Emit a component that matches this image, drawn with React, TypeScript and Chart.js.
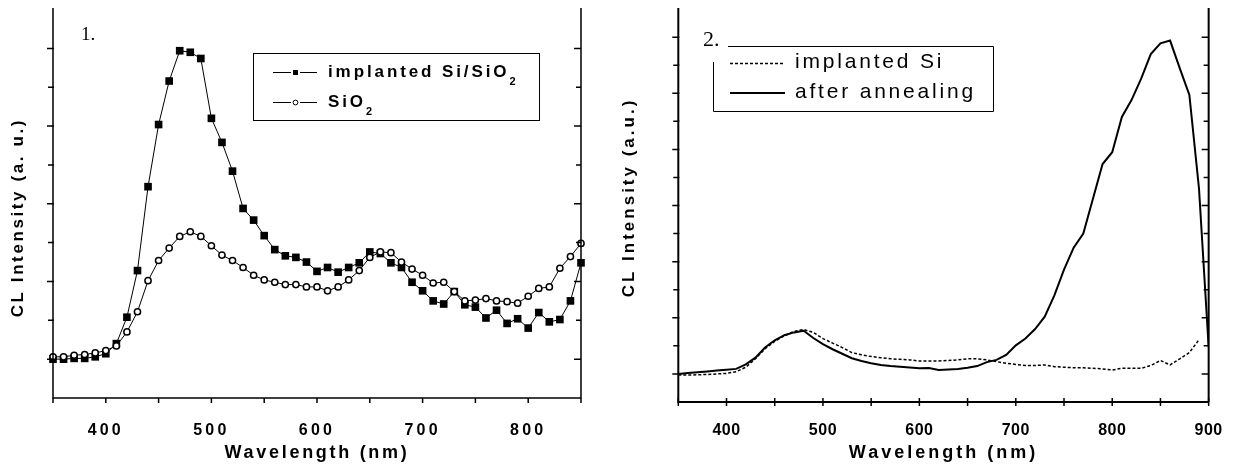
import React, { useEffect, useRef } from 'react';
import { Chart, registerables } from 'chart.js';

Chart.register(...registerables);

// ---------- data (panel 1) ----------
const leftWavelengths = [
  350, 360, 370, 380, 390, 400, 410, 420, 430, 440, 450, 460, 470, 480, 490, 500, 510,
  520, 530, 540, 550, 560, 570, 580, 590, 600, 610, 620, 630, 640, 650, 660, 670, 680,
  690, 700, 710, 720, 730, 740, 750, 760, 770, 780, 790, 800, 810, 820, 830, 840, 850,
];
const implantedSiSiO2 = [
  0.0, 0.0, 0.01, 0.01, 0.03, 0.07, 0.2, 0.54, 1.14, 2.22, 3.02, 3.58, 3.97, 3.95, 3.87, 3.1, 2.79,
  2.42, 1.94, 1.79, 1.59, 1.41, 1.33, 1.31, 1.25, 1.13, 1.18, 1.12, 1.18, 1.24, 1.38, 1.36, 1.24, 1.18,
  0.99, 0.88, 0.75, 0.71, 0.87, 0.7, 0.67, 0.53, 0.63, 0.46, 0.52, 0.4, 0.6, 0.48, 0.51, 0.75, 1.24,
];
const sio2 = [
  0.03, 0.03, 0.05, 0.06, 0.08, 0.11, 0.17, 0.35, 0.61, 1.01, 1.27, 1.43, 1.58, 1.64, 1.58, 1.46, 1.34,
  1.27, 1.18, 1.08, 1.02, 0.99, 0.96, 0.96, 0.93, 0.93, 0.88, 0.93, 1.02, 1.14, 1.31, 1.38, 1.37, 1.25,
  1.16, 1.08, 0.98, 0.99, 0.87, 0.75, 0.76, 0.78, 0.75, 0.74, 0.72, 0.81, 0.91, 0.93, 1.17, 1.32, 1.49,
];

// ---------- data (panel 2) ----------
const rightWavelengths = [
  350, 360, 370, 380, 390, 400, 410, 420, 430, 440, 450, 460, 470, 480, 490, 500, 510, 520, 530,
  540, 550, 560, 570, 580, 590, 600, 610, 620, 630, 640, 650, 660, 670, 680, 690, 700, 710, 720,
  730, 740, 750, 760, 770, 780, 790, 800, 810, 820, 830, 840, 850, 860, 870, 880, 890, 900,
];
const afterAnnealing = [
  0.0, 0.015, 0.03, 0.045, 0.06, 0.075, 0.09, 0.17, 0.29, 0.47, 0.6, 0.69, 0.74, 0.77, 0.64, 0.53, 0.44, 0.36, 0.28,
  0.23, 0.19, 0.16, 0.14, 0.13, 0.115, 0.1, 0.105, 0.07, 0.08, 0.09, 0.11, 0.14, 0.21, 0.25, 0.34, 0.51, 0.63, 0.8,
  1.02, 1.4, 1.86, 2.25, 2.5, 3.12, 3.74, 3.95, 4.58, 4.88, 5.26, 5.7, 5.89, 5.94, 5.45, 4.97, 3.3, 0.48,
];
const implantedSi = [
  -0.02, -0.02, -0.015, -0.01, 0.0, 0.01, 0.04, 0.12, 0.27, 0.45, 0.58, 0.68, 0.76, 0.79, 0.74, 0.63, 0.55, 0.47, 0.38,
  0.34, 0.31, 0.29, 0.27, 0.26, 0.25, 0.23, 0.23, 0.23, 0.24, 0.25, 0.27, 0.27, 0.25, 0.22, 0.19, 0.17, 0.15, 0.15,
  0.16, 0.13, 0.12, 0.11, 0.11, 0.1, 0.09, 0.07, 0.1, 0.1, 0.1, 0.15, 0.24, 0.16, 0.27, 0.38, 0.61,
];

const SANS = '"Liberation Sans", Arial, sans-serif';
const SERIF = '"Liberation Serif", "Times New Roman", serif';

function pts(xs: number[], ys: number[]) {
  return ys.map((y, i) => ({ x: xs[i], y }));
}

type Decor = {
  axisWidth: number;
  xTickUp: number;
  xTickDown: number;
  yMax: number;
  yTitle: string;
  yTitleX: number;
  yTitleY: number;
  yTitleSpacing: number;
  drawLegend: (ctx: CanvasRenderingContext2D, chart: any) => void;
};

function makeDecorPlugin(d: Decor) {
  return {
    id: 'decor',
    afterDraw(chart: any) {
      const ctx: CanvasRenderingContext2D = chart.ctx;
      const { left, right, top, bottom } = chart.chartArea;
      const xs = chart.scales.x;
      const ys = chart.scales.y;
      ctx.save();
      ctx.letterSpacing = '0px';
      ctx.strokeStyle = '#000';
      ctx.lineWidth = d.axisWidth;
      ctx.setLineDash([]);
      ctx.beginPath();
      ctx.moveTo(left, top);
      ctx.lineTo(left, bottom);
      ctx.lineTo(right, bottom);
      ctx.moveTo(right, top);
      ctx.lineTo(right, bottom);
      ctx.stroke();
      ctx.lineWidth = 1.5;
      ctx.beginPath();
      xs.ticks.forEach((t: any) => {
        const px = xs.getPixelForValue(t.value);
        ctx.moveTo(px, bottom - d.xTickUp);
        ctx.lineTo(px, bottom + d.xTickDown);
      });
      ys.ticks.forEach((t: any) => {
        const v = t.value;
        if (v < 0 || v > d.yMax || Math.abs(v * 2 - Math.round(v * 2)) > 1e-6) return;
        const major = Math.abs(v - Math.round(v)) < 1e-6;
        const py = ys.getPixelForValue(v);
        ctx.moveTo(left - (major ? 6 : 5), py);
        ctx.lineTo(left + 1, py);
        ctx.moveTo(right - (major ? 7 : 5), py);
        ctx.lineTo(right, py);
      });
      ctx.stroke();
      // y axis title
      ctx.save();
      ctx.translate(d.yTitleX, d.yTitleY);
      ctx.rotate(-Math.PI / 2);
      ctx.font = `bold 17px ${SANS}`;
      ctx.letterSpacing = `${d.yTitleSpacing}px`;
      ctx.fillStyle = '#000';
      ctx.textAlign = 'center';
      ctx.textBaseline = 'middle';
      ctx.fillText(d.yTitle, d.yTitleSpacing / 2, 0);
      ctx.restore();
      d.drawLegend(ctx, chart);
      ctx.restore();
    },
  };
}

function spacingPlugin(titleSpacing: number, tickSpacing: number) {
  return {
    id: 'spacing',
    beforeDraw(chart: any) {
      chart.ctx.letterSpacing = `${titleSpacing}px`;
    },
    afterDatasetsDraw(chart: any) {
      chart.ctx.letterSpacing = `${tickSpacing}px`;
    },
  };
}

function xScale(min: number, max: number, height: number, pad: number) {
  return {
    type: 'linear',
    min,
    max,
    afterFit: (s: any) => {
      s.height = height;
    },
    grid: { display: false },
    border: { display: false },
    ticks: {
      stepSize: 50,
      autoSkip: false,
      maxRotation: 0,
      padding: pad,
      z: 1,
      color: '#000',
      font: { family: SANS, weight: 'bold', size: 16 },
      callback: (v: any) => (Number(v) % 100 === 0 ? String(v) : ''),
    },
    title: {
      display: true,
      text: 'Wavelength (nm)',
      color: '#000',
      font: { family: SANS, weight: 'bold', size: 18 },
      padding: { top: 0, bottom: 5 },
    },
  };
}

function yScale(min: number, max: number, width: number) {
  return {
    type: 'linear',
    min,
    max,
    afterFit: (s: any) => {
      s.width = width;
    },
    grid: { display: false },
    border: { display: false },
    ticks: { display: false, stepSize: 0.5 },
  };
}

function drawLeftLegend(ctx: CanvasRenderingContext2D, chart: any) {
  ctx.strokeStyle = '#000';
  ctx.fillStyle = '#000';
  ctx.lineWidth = 1;
  ctx.setLineDash([]);
  ctx.strokeRect(253.5, 53.5, 286, 67);
  const rows = [
    { y: 72, label: chart.data.datasets[0].label, marker: 'rect' },
    { y: 102, label: chart.data.datasets[1].label, marker: 'circle' },
  ];
  rows.forEach((r) => {
    ctx.beginPath();
    ctx.moveTo(273, r.y + 0.5);
    ctx.lineTo(291, r.y + 0.5);
    ctx.moveTo(300, r.y + 0.5);
    ctx.lineTo(317, r.y + 0.5);
    ctx.stroke();
    if (r.marker === 'rect') {
      ctx.fillRect(293, r.y - 2, 5, 5);
    } else {
      ctx.beginPath();
      ctx.arc(295.5, r.y + 0.5, 2.4, 0, Math.PI * 2);
      ctx.fillStyle = '#fff';
      ctx.fill();
      ctx.stroke();
      ctx.fillStyle = '#000';
    }
    const main = r.label.replace(/2$/, '');
    ctx.font = `bold 17px ${SANS}`;
    ctx.letterSpacing = '2.9px';
    ctx.textAlign = 'left';
    ctx.textBaseline = 'middle';
    ctx.fillText(main, 328, r.y);
    const w = ctx.measureText(main).width;
    ctx.font = `bold 11px ${SANS}`;
    ctx.letterSpacing = '0px';
    ctx.fillText('2', 328 + w, r.y + 10);
  });
  ctx.font = `19px ${SERIF}`;
  ctx.letterSpacing = '0px';
  ctx.textAlign = 'left';
  ctx.textBaseline = 'alphabetic';
  ctx.fillText('1.', 81, 40);
}

function drawRightLegend(ctx: CanvasRenderingContext2D, chart: any) {
  ctx.strokeStyle = '#000';
  ctx.fillStyle = '#000';
  ctx.lineWidth = 1;
  ctx.setLineDash([]);
  ctx.beginPath();
  ctx.moveTo(108, 46.5);
  ctx.lineTo(373.5, 46.5);
  ctx.lineTo(373.5, 111.5);
  ctx.lineTo(93.5, 111.5);
  ctx.lineTo(93.5, 62);
  ctx.stroke();
  const dsImpl = chart.data.datasets[0];
  const dsAnn = chart.data.datasets[1];
  ctx.lineWidth = 1.5;
  ctx.setLineDash([3, 2]);
  ctx.beginPath();
  ctx.moveTo(110, 63.5);
  ctx.lineTo(165, 63.5);
  ctx.stroke();
  ctx.setLineDash([]);
  ctx.lineWidth = 2;
  ctx.beginPath();
  ctx.moveTo(110, 93);
  ctx.lineTo(165, 93);
  ctx.stroke();
  ctx.font = `21px ${SANS}`;
  ctx.letterSpacing = '2.8px';
  ctx.textAlign = 'left';
  ctx.textBaseline = 'middle';
  ctx.fillText(dsImpl.label, 175, 62);
  ctx.fillText(dsAnn.label, 175, 92);
  ctx.font = `22px ${SERIF}`;
  ctx.letterSpacing = '0px';
  ctx.textBaseline = 'alphabetic';
  ctx.fillText('2.', 83, 46);
}

export default function App() {
  const leftRef = useRef<HTMLCanvasElement>(null);
  const rightRef = useRef<HTMLCanvasElement>(null);

  useEffect(() => {
    const left = new Chart(leftRef.current as HTMLCanvasElement, {
      type: 'line',
      data: {
        datasets: [
          {
            label: 'implanted Si/SiO2',
            data: pts(leftWavelengths, implantedSiSiO2),
            borderColor: '#000',
            borderWidth: 1,
            pointStyle: 'rect',
            pointRadius: 5.4,
            pointBackgroundColor: '#000',
            pointBorderColor: '#000',
            pointBorderWidth: 0,
            tension: 0,
            clip: false,
            order: 1,
          },
          {
            label: 'SiO2',
            data: pts(leftWavelengths, sio2),
            borderColor: '#000',
            borderWidth: 1,
            pointStyle: 'circle',
            pointRadius: 3.1,
            pointBackgroundColor: '#fff',
            pointBorderColor: '#000',
            pointBorderWidth: 1.5,
            tension: 0,
            clip: false,
            order: 0,
          },
        ],
      },
      options: {
        animation: false,
        responsive: false,
        devicePixelRatio: 1,
        layout: { padding: { left: 0, top: 8, right: 39, bottom: 0 } },
        plugins: { legend: { display: false }, tooltip: { enabled: false } },
        scales: {
          x: xScale(350, 850, 71, 15),
          y: yScale(-0.5, 4.52, 53),
        },
      } as any,
      plugins: [
        spacingPlugin(2.7, 3.2),
        makeDecorPlugin({
          axisWidth: 1.5,
          xTickUp: 0,
          xTickDown: 5,
          yMax: 4.5,
          yTitle: 'CL Intensity (a. u.)',
          yTitleX: 18.5,
          yTitleY: 219,
          yTitleSpacing: 2.6,
          drawLegend: drawLeftLegend,
        }),
      ] as any,
    });

    const right = new Chart(rightRef.current as HTMLCanvasElement, {
      type: 'line',
      data: {
        datasets: [
          {
            label: 'implanted Si',
            data: pts(rightWavelengths, implantedSi),
            borderColor: '#000',
            borderWidth: 1.5,
            borderDash: [3, 2],
            pointRadius: 0,
            tension: 0,
            order: 1,
          },
          {
            label: 'after annealing',
            data: pts(rightWavelengths, afterAnnealing),
            borderColor: '#000',
            borderWidth: 2,
            pointRadius: 0,
            tension: 0,
            order: 0,
          },
        ],
      },
      options: {
        animation: false,
        responsive: false,
        devicePixelRatio: 1,
        layout: { padding: { left: 0, top: 8, right: 18, bottom: 0 } },
        plugins: { legend: { display: false }, tooltip: { enabled: false } },
        scales: {
          x: xScale(350, 900, 67, 11),
          y: yScale(-0.5, 6.52, 58.3),
        },
      } as any,
      plugins: [
        spacingPlugin(3.0, 0.5),
        makeDecorPlugin({
          axisWidth: 2,
          xTickUp: 4,
          xTickDown: 4,
          yMax: 6,
          yTitle: 'CL Intensity (a.u.)',
          yTitleX: 9.5,
          yTitleY: 199,
          yTitleSpacing: 3.0,
          drawLegend: drawRightLegend,
        }),
      ] as any,
    });

    return () => {
      left.destroy();
      right.destroy();
    };
  }, []);

  return (
    <div style={{ position: 'absolute', left: 0, top: 0, width: 1233, height: 469, background: '#fff' }}>
      <canvas ref={leftRef} width={620} height={469} style={{ position: 'absolute', left: 0, top: 0 }} />
      <canvas ref={rightRef} width={613} height={469} style={{ position: 'absolute', left: 620, top: 0 }} />
    </div>
  );
}
